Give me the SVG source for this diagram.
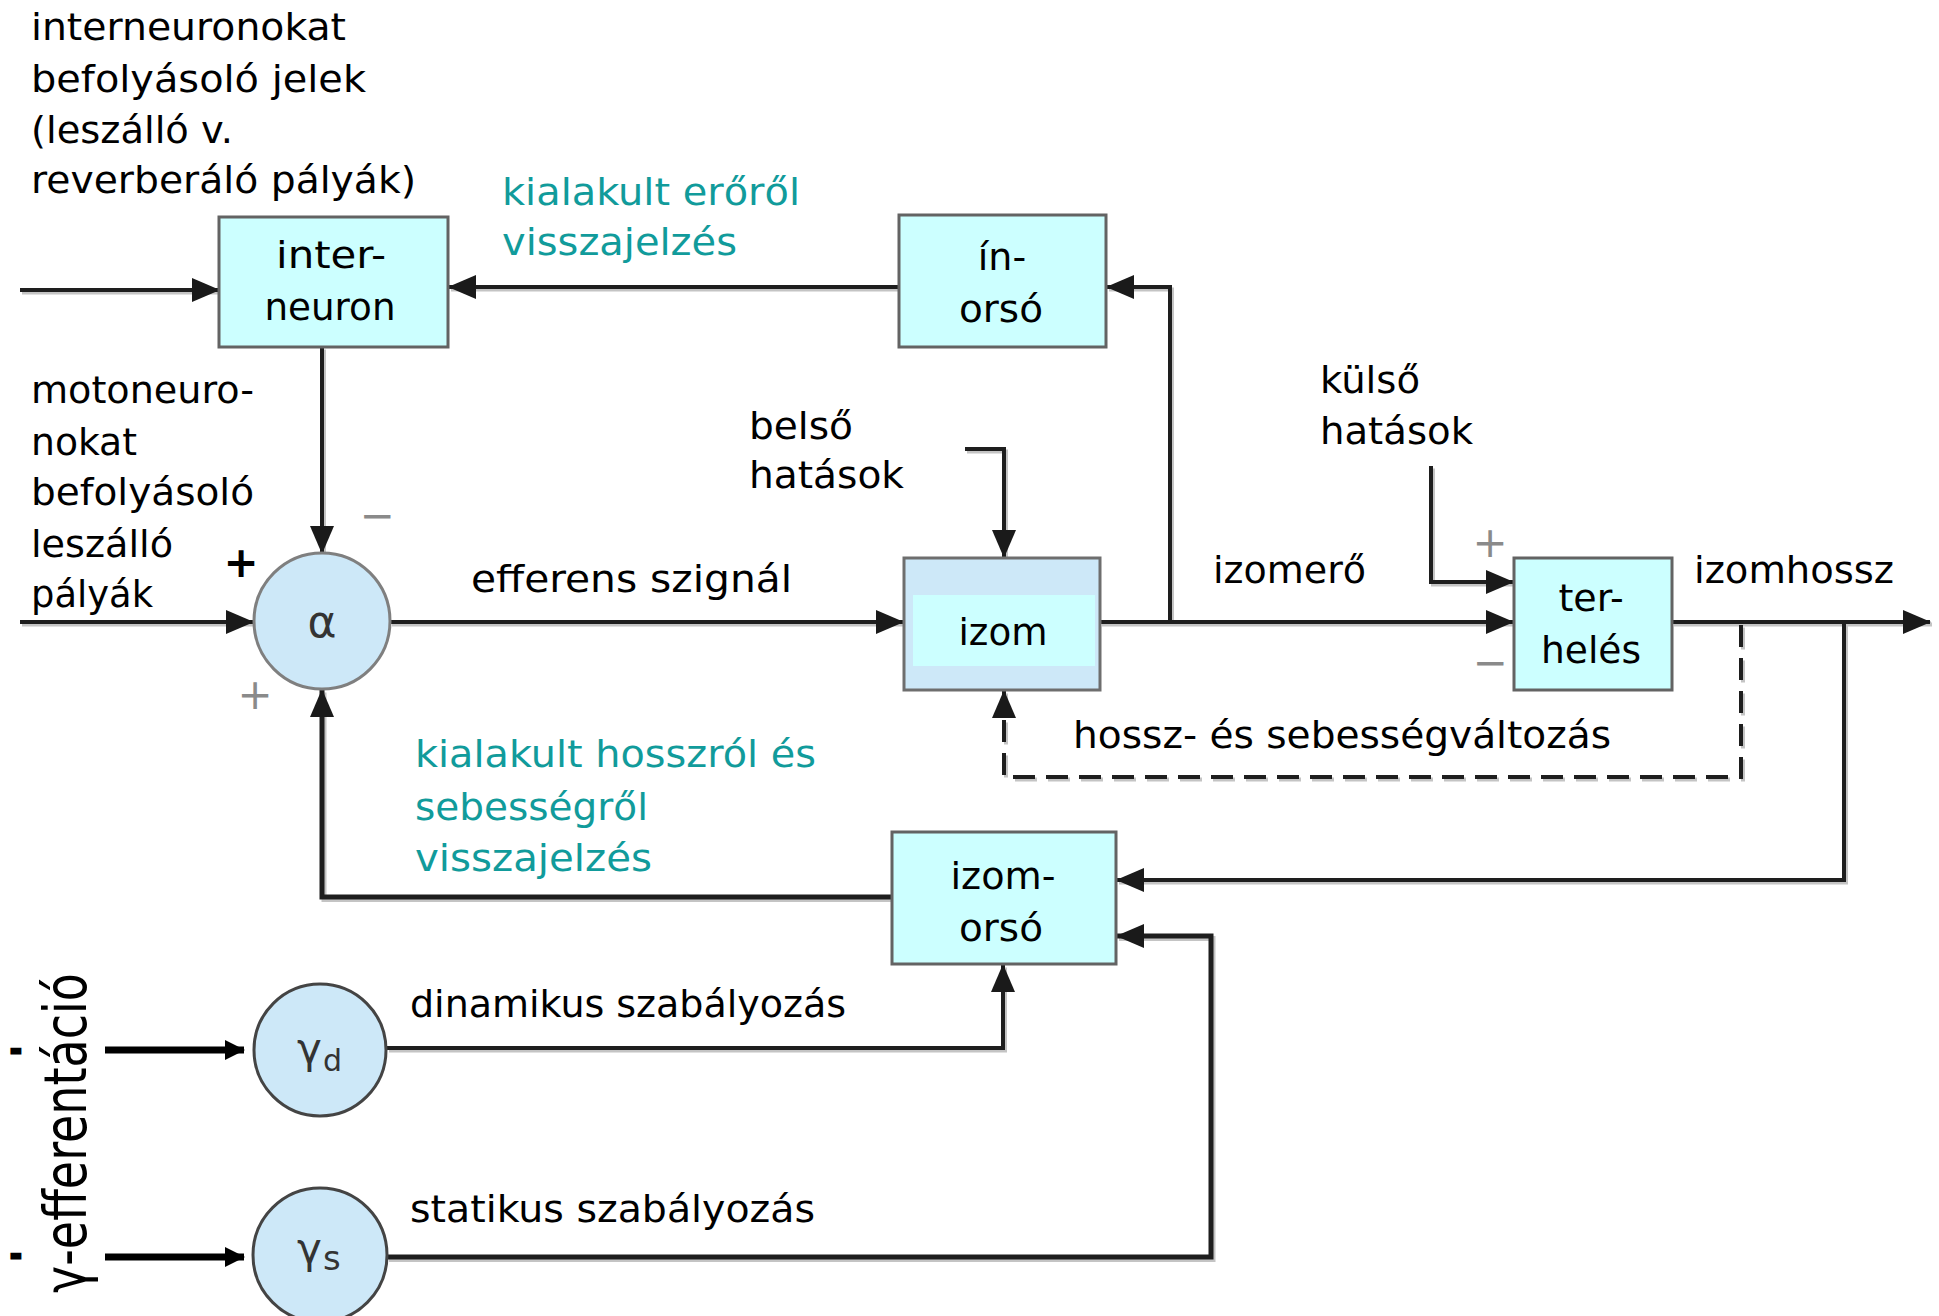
<svg xmlns="http://www.w3.org/2000/svg" xmlns:xlink="http://www.w3.org/1999/xlink" width="1939" height="1316" viewBox="0 0 1939 1316">
  <style>
    .lbl { font-family: "DejaVu Sans", "Liberation Sans", sans-serif; font-size: 38px; fill: #000; }
    .teal { fill: #119b9b; }
    .mid { text-anchor: middle; }
    .box { fill: #ccffff; stroke: #636363; stroke-width: 3; }
    .cell { fill: #cde8f8; stroke: #6e6e6e; stroke-width: 3; }
    .soma { fill: #cde8f8; stroke: #444; stroke-width: 3; }
    .sym { font-family: "DejaVu Sans", sans-serif; fill: #333; }
    .sign { font-family: "DejaVu Sans", sans-serif; fill: #8a8a8a; font-size: 42px; text-anchor: middle; dominant-baseline: central; }
    .wire { fill: none; stroke: #1e1e1e; stroke-width: 4; }
    .shade { fill: none; stroke: #c4c4c4; stroke-width: 4; }
  </style>
  <defs>
    <marker id="ah" markerUnits="userSpaceOnUse" viewBox="0 0 28 24" markerWidth="28" markerHeight="24" refX="27" refY="12" orient="auto">
      <path d="M0,0 L28,12 L0,24 Z" fill="#1a1a1a"/>
    </marker>
    <marker id="ah-small" markerUnits="userSpaceOnUse" viewBox="0 0 20 20" markerWidth="20" markerHeight="20" refX="19" refY="10" orient="auto">
      <path d="M0,0 L20,10 L0,20 Z" fill="#000"/>
    </marker>
    <!-- wire geometry, drawn twice: a pale offset copy and the dark line on top -->
    <g id="wire-paths">
      <path d="M20,290 H219"/>
      <path d="M899,287 H449"/>
      <path d="M1170,622 V287 H1107"/>
      <path d="M322,347 V553"/>
      <path d="M20,622 H253"/>
      <path d="M390,622 H903"/>
      <path d="M965,449 H1004 V557"/>
      <path d="M1100,622 H1513"/>
      <path d="M1431,466 V582 H1513"/>
      <path d="M1672,622 H1930"/>
      <path d="M1844,622 V880 H1117"/>
      <path d="M1741,625 V777 H1004 V691" stroke-dasharray="22 11"/>
      <path d="M892,897 H322 V690" stroke-width="5"/>
      <path d="M387,1048 H1003 V965"/>
      <path d="M387,1257 H1211 V936 H1117" stroke-width="5"/>
    </g>
  </defs>

  <rect width="1939" height="1316" fill="#fff"/>

  <!-- connectors -->
  <g id="connectors">
    <use xlink:href="#wire-paths" class="shade" transform="translate(2,2.5)"/>
    <use xlink:href="#wire-paths" class="wire" marker-end="url(#ah)"/>
    <path d="M105,1050 H244" fill="none" stroke="#000" stroke-width="7" marker-end="url(#ah-small)"/>
    <path d="M105,1257 H244" fill="none" stroke="#000" stroke-width="7" marker-end="url(#ah-small)"/>
  </g>

  <!-- nodes -->
  <g id="interneuron">
    <rect class="box" x="219" y="217" width="229" height="130"/>
    <text class="lbl mid" x="331" y="268" textLength="110" lengthAdjust="spacingAndGlyphs">inter-</text>
    <text class="lbl mid" x="330" y="320" textLength="131" lengthAdjust="spacingAndGlyphs">neuron</text>
  </g>

  <g id="in-orso">
    <rect class="box" x="899" y="215" width="207" height="132"/>
    <text class="lbl mid" x="1002" y="270">ín-</text>
    <text class="lbl mid" x="1001" y="322" textLength="84" lengthAdjust="spacingAndGlyphs">orsó</text>
  </g>

  <g id="alpha">
    <circle cx="322" cy="621" r="68" fill="#cde8f8" stroke="#7f7f7f" stroke-width="3"/>
    <text class="sym mid" x="322" y="637" font-size="44">α</text>
  </g>

  <g id="izom">
    <rect class="cell" x="904" y="558" width="196" height="132"/>
    <rect x="913" y="595" width="182" height="71" fill="#ccffff"/>
    <text class="lbl mid" x="1003" y="645" textLength="89" lengthAdjust="spacingAndGlyphs">izom</text>
  </g>

  <g id="terheles">
    <rect class="box" x="1514" y="558" width="158" height="132"/>
    <text class="lbl mid" x="1591" y="611">ter-</text>
    <text class="lbl mid" x="1591" y="663" textLength="100" lengthAdjust="spacingAndGlyphs">helés</text>
  </g>

  <g id="izom-orso">
    <rect class="box" x="892" y="832" width="224" height="132"/>
    <text class="lbl mid" x="1003" y="889" textLength="105" lengthAdjust="spacingAndGlyphs">izom-</text>
    <text class="lbl mid" x="1001" y="941" textLength="84" lengthAdjust="spacingAndGlyphs">orsó</text>
  </g>

  <!-- gamma motoneurons: letter plus its index -->
  <g id="gamma-d">
    <circle class="soma" cx="320" cy="1050" r="66"/>
    <text class="sym" x="297" y="1063" font-size="42">γ</text>
    <text class="sym" x="323" y="1071" font-size="30">d</text>
  </g>

  <g id="gamma-s">
    <circle class="soma" cx="320" cy="1255" r="67"/>
    <text class="sym" x="297" y="1263" font-size="42">γ</text>
    <text class="sym" x="323" y="1270" font-size="34">s</text>
  </g>

  <!-- signs at the summing points -->
  <g id="signs">
    <text class="sign" x="241" y="562" style="fill:#000;font-weight:bold" font-size="38">+</text>
    <text class="sign" x="377" y="515" font-size="46">−</text>
    <text class="sign" x="255" y="694">+</text>
    <text class="sign" x="1490" y="542">+</text>
    <text class="sign" x="1490" y="662" font-size="46">−</text>
  </g>

  <!-- labels -->
  <g id="labels">
    <text class="lbl" x="31" y="40" textLength="315" lengthAdjust="spacingAndGlyphs">interneuronokat</text>
    <text class="lbl" x="31" y="92" textLength="335" lengthAdjust="spacingAndGlyphs">befolyásoló jelek</text>
    <text class="lbl" x="31" y="143" textLength="202" lengthAdjust="spacingAndGlyphs">(leszálló v.</text>
    <text class="lbl" x="31" y="193" textLength="385" lengthAdjust="spacingAndGlyphs">reverberáló pályák)</text>

    <text class="lbl teal" x="502" y="205" textLength="298" lengthAdjust="spacingAndGlyphs">kialakult erőről</text>
    <text class="lbl teal" x="502" y="255" textLength="235" lengthAdjust="spacingAndGlyphs">visszajelzés</text>

    <text class="lbl" x="31" y="403" textLength="223" lengthAdjust="spacingAndGlyphs">motoneuro-</text>
    <text class="lbl" x="31" y="455" textLength="106" lengthAdjust="spacingAndGlyphs">nokat</text>
    <text class="lbl" x="31" y="505" textLength="223" lengthAdjust="spacingAndGlyphs">befolyásoló</text>
    <text class="lbl" x="31" y="557" textLength="142" lengthAdjust="spacingAndGlyphs">leszálló</text>
    <text class="lbl" x="31" y="607" textLength="122" lengthAdjust="spacingAndGlyphs">pályák</text>

    <text class="lbl" x="749" y="439" textLength="104" lengthAdjust="spacingAndGlyphs">belső</text>
    <text class="lbl" x="749" y="488" textLength="155" lengthAdjust="spacingAndGlyphs">hatások</text>

    <text class="lbl" x="1320" y="393" textLength="100" lengthAdjust="spacingAndGlyphs">külső</text>
    <text class="lbl" x="1320" y="444" textLength="153" lengthAdjust="spacingAndGlyphs">hatások</text>

    <text class="lbl" x="471" y="592" textLength="321" lengthAdjust="spacingAndGlyphs">efferens szignál</text>
    <text class="lbl" x="1213" y="583" textLength="153" lengthAdjust="spacingAndGlyphs">izomerő</text>
    <text class="lbl" x="1694" y="583" textLength="200" lengthAdjust="spacingAndGlyphs">izomhossz</text>
    <text class="lbl" x="1073" y="748" textLength="538" lengthAdjust="spacingAndGlyphs">hossz- és sebességváltozás</text>

    <text class="lbl teal" x="415" y="767" textLength="401" lengthAdjust="spacingAndGlyphs">kialakult hosszról és</text>
    <text class="lbl teal" x="415" y="820" textLength="233" lengthAdjust="spacingAndGlyphs">sebességről</text>
    <text class="lbl teal" x="415" y="871" textLength="237" lengthAdjust="spacingAndGlyphs">visszajelzés</text>

    <text class="lbl" x="410" y="1017" textLength="436" lengthAdjust="spacingAndGlyphs">dinamikus szabályozás</text>
    <text class="lbl" x="410" y="1222" textLength="405" lengthAdjust="spacingAndGlyphs">statikus szabályozás</text>

    <text class="lbl" transform="translate(86,1293) rotate(-90)" style="font-size:58px" textLength="320" lengthAdjust="spacingAndGlyphs">γ-efferentáció</text>
    <text class="lbl mid" x="16" y="1059" style="font-size:26px;font-weight:bold" stroke="#000" stroke-width="3">-</text>
    <text class="lbl mid" x="16" y="1264" style="font-size:26px;font-weight:bold" stroke="#000" stroke-width="3">-</text>
  </g>
</svg>
